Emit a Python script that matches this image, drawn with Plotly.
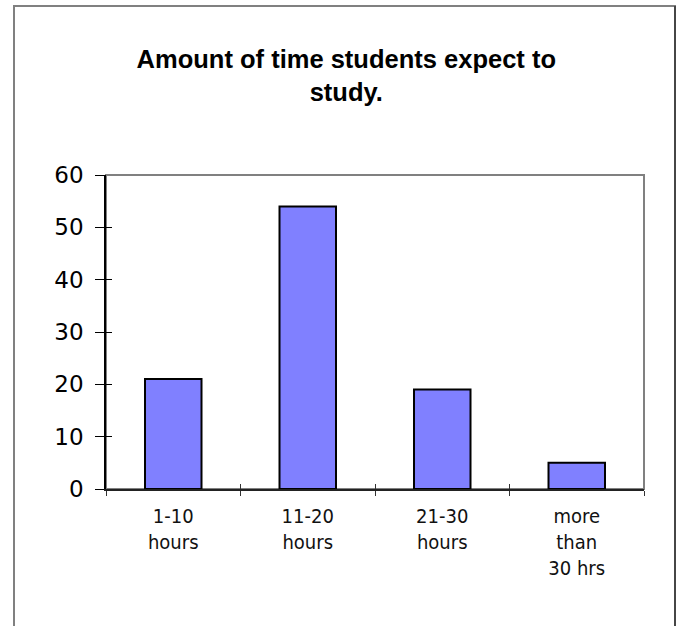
import plotly.graph_objects as go

categories = ["1-10<br>hours", "11-20<br>hours", "21-30<br>hours", "more<br>than<br>30 hrs"]
values = [21, 54, 19, 5]
y_ticks = [0, 10, 20, 30, 40, 50, 60]
title_text = "Amount of time students expect to<br>study."

W, H = 679, 626
L, R, T, B = 106, 35, 175, 137
pw = W - L - R
ph = H - T - B

def px_x(p):
    return (p - L) / pw

def px_y(p):
    return (H - B - p) / ph

NARROW = "DejaVu Sans Condensed, Liberation Sans Narrow, Arial Narrow, Liberation Sans, sans-serif"

fig = go.Figure()
fig.add_trace(go.Bar(
    x=categories, y=values,
    marker=dict(color="#8080FF", line=dict(color="black", width=2)),
    width=0.42, hoverinfo="x+y", showlegend=False,
))
# invisible trace to give the overlay axes their categories (crossing ticks)
fig.add_trace(go.Scatter(
    x=categories, y=values, xaxis="x2", yaxis="y2",
    mode="markers", marker=dict(opacity=0), hoverinfo="skip", showlegend=False,
))

axis_font_y = dict(family="DejaVu Sans, Verdana, sans-serif", size=23, color="black")
axis_font_x = dict(family=NARROW, size=20, color="#111111")

fig.update_layout(
    width=W, height=H,
    margin=dict(l=L, r=R, t=T, b=B),
    paper_bgcolor="white", plot_bgcolor="white",
    title=dict(
        text="<b>" + title_text + "</b>",
        x=0.51, xref="container", xanchor="center",
        y=1 - 68 / H, yref="container", yanchor="top",
        font=dict(family="Liberation Sans, Arial, sans-serif", size=25.5, color="black"),
    ),
    xaxis=dict(
        type="category", range=[-0.5, 3.5], tickson="boundaries",
        ticks="outside", ticklen=5, tickcolor="#333333", tickwidth=1.2,
        ticklabelstandoff=8,
        showline=True, linecolor="#222222", linewidth=1.5,
        showgrid=False, zeroline=False, tickfont=axis_font_x, fixedrange=True,
    ),
    yaxis=dict(
        range=[0, 60], tickvals=y_ticks,
        ticks="outside", ticklen=9, tickcolor="black", tickwidth=1.2,
        ticklabelstandoff=7,
        showline=True, linecolor="black", linewidth=1.5,
        showgrid=False, zeroline=False, tickfont=axis_font_y, fixedrange=True,
    ),
    xaxis2=dict(
        type="category", overlaying="x", matches="x", tickson="boundaries",
        ticks="inside", ticklen=5, tickcolor="#333333", tickwidth=1.2,
        showticklabels=False, showline=False, showgrid=False, zeroline=False,
    ),
    yaxis2=dict(
        overlaying="y", matches="y", tickvals=y_ticks,
        ticks="inside", ticklen=6, tickcolor="black", tickwidth=1.2,
        showticklabels=False, showline=False, showgrid=False, zeroline=False,
    ),
    shapes=[
        # plot area border
        dict(type="rect", xref="paper", yref="paper", x0=0, y0=0, x1=1, y1=1,
             line=dict(color="#808080", width=2), layer="below"),
        # outer chart frame
        dict(type="rect", xref="paper", yref="paper",
             x0=px_x(14), y0=px_y(660), x1=px_x(675), y1=px_y(6),
             line=dict(color="#808080", width=2), layer="below"),
        dict(type="line", xref="paper", yref="paper",
             x0=px_x(675), y0=px_y(660), x1=px_x(675), y1=px_y(6),
             line=dict(color="#333333", width=1.5), layer="below"),
    ],
)

fig.write_html("out.html", config={"displayModeBar": False},
               post_script="document.body.style.margin='0px';document.body.style.overflow='hidden';")
